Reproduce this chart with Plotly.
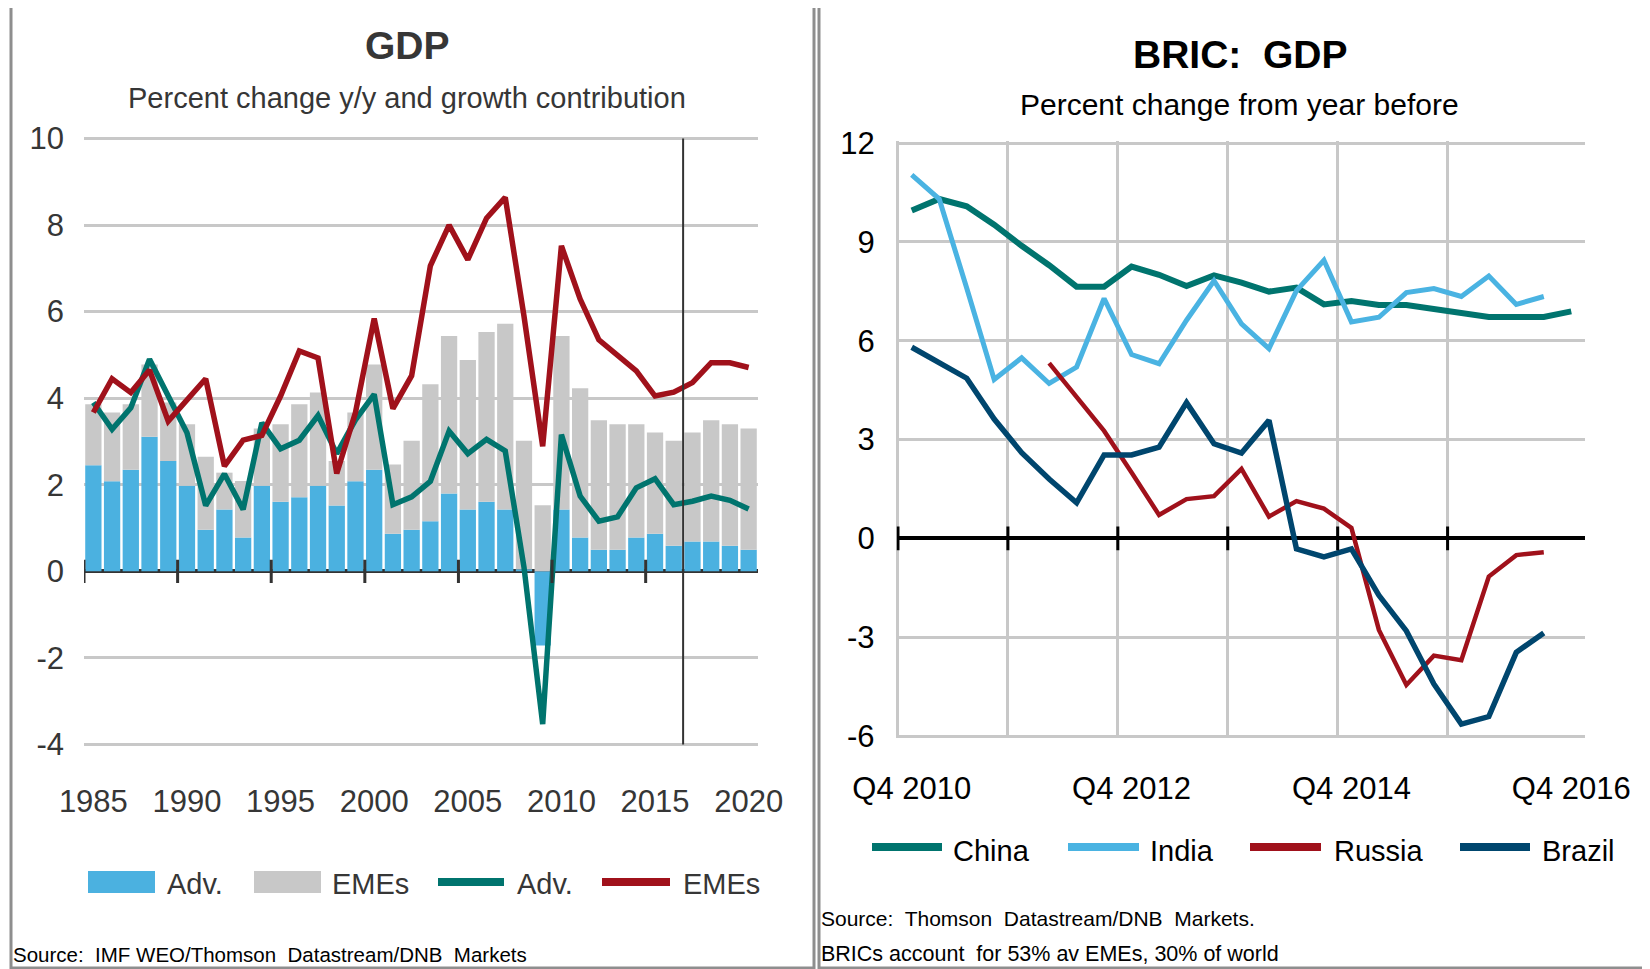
import plotly.graph_objects as go

W, H = 1650, 969
OFF = 8  # page body margin of the browser page (px)

# ---------------- Left chart data (GDP, % y/y and growth contribution) -------------
years = list(range(1985, 2021))
adv_contrib = [2.45, 2.08, 2.35, 3.11, 2.55, 1.98, 0.96, 1.43, 0.78, 1.98,
               1.61, 1.71, 1.98, 1.52, 2.08, 2.35, 0.87, 0.96, 1.16, 1.80,
               1.43, 1.61, 1.43, 0.05, -1.71, 1.43, 0.78, 0.50, 0.50, 0.78,
               0.87, 0.59, 0.69, 0.69, 0.59, 0.50]
eme_contrib = [1.41, 1.59, 1.51, 1.67, 1.35, 1.42, 1.69, 0.85, 1.31, 1.32,
               1.79, 2.15, 2.15, 1.03, 1.59, 2.43, 1.60, 2.06, 3.16, 3.64,
               3.45, 3.92, 4.29, 2.97, 1.53, 4.01, 3.45, 2.99, 2.90, 2.62,
               2.34, 2.43, 2.52, 2.80, 2.81, 2.80]
adv_growth = [3.90, 3.28, 3.78, 4.90, 4.05, 3.20, 1.52, 2.25, 1.43, 3.43,
              2.83, 3.03, 3.60, 2.72, 3.50, 4.09, 1.54, 1.72, 2.08, 3.24,
              2.72, 3.05, 2.78, 0.10, -3.53, 3.16, 1.74, 1.16, 1.26, 1.93,
              2.14, 1.54, 1.62, 1.74, 1.64, 1.44]
eme_growth = [3.67, 4.45, 4.13, 4.65, 3.47, 3.97, 4.45, 2.43, 3.03, 3.14,
              4.05, 5.09, 4.93, 2.26, 3.67, 5.84, 3.76, 4.52, 7.06, 8.00,
              7.20, 8.16, 8.64, 5.90, 2.89, 7.52, 6.29, 5.35, 4.98, 4.63,
              4.05, 4.14, 4.36, 4.82, 4.82, 4.71]
left_tick_years = [1985, 1990, 1995, 2000, 2005, 2010, 2015, 2020]
left_y_ticks = [-4, -2, 0, 2, 4, 6, 8, 10]
forecast_from = 2017

# ---------------- Right chart data (BRIC GDP, % change from year before) ----------
quarters = ["Q4 2010", "Q1 2011", "Q2 2011", "Q3 2011", "Q4 2011",
            "Q1 2012", "Q2 2012", "Q3 2012", "Q4 2012",
            "Q1 2013", "Q2 2013", "Q3 2013", "Q4 2013",
            "Q1 2014", "Q2 2014", "Q3 2014", "Q4 2014",
            "Q1 2015", "Q2 2015", "Q3 2015", "Q4 2015",
            "Q1 2016", "Q2 2016", "Q3 2016", "Q4 2016"]
china = [9.95, 10.3, 10.08, 9.52, 8.88, 8.29, 7.64, 7.64, 8.25, 8.0, 7.66,
         7.98, 7.76, 7.49, 7.61, 7.1, 7.2, 7.08, 7.08, 6.96, 6.84, 6.72,
         6.72, 6.72, 6.89]
india = [11.03, 10.3, 7.6, 4.82, 5.48, 4.70, 5.2, 7.28, 5.58, 5.3, 6.62,
         7.82, 6.51, 5.76, 7.52, 8.44, 6.57, 6.71, 7.46, 7.58, 7.34, 7.96,
         7.1, 7.34, None]
russia = [None, None, None, None, None, 5.32, 4.28, 3.26, 2.0, 0.71, 1.19,
          1.28, 2.11, 0.66, 1.13, 0.9, 0.32, -2.78, -4.45, -3.56, -3.70,
          -1.16, -0.51, -0.42, None]
brazil = [5.8, 5.34, 4.86, 3.62, 2.6, 1.8, 1.08, 2.53, 2.53, 2.77, 4.12,
          2.87, 2.59, 3.58, -0.32, -0.56, -0.32, -1.73, -2.81, -4.42, -5.64,
          -5.41, -3.46, -2.87, None]
right_tick_labels = ["Q4 2010", "Q4 2012", "Q4 2014", "Q4 2016"]
right_y_ticks = [-6, -3, 0, 3, 6, 9, 12]

# ---------------- Styles ----------------
FONT = "Liberation Sans, Arial, sans-serif"
LTXT = "#363636"
RTXT = "#000000"
BLUE = "#4BB1E0"
GREY = "#C8C8C8"
TEAL = "#00746E"
RED = "#A0111B"
LBLUE = "#4AB3E2"
DBLUE = "#00466E"
GRID = "#C8C8C8"


def px(x):
    return (x - OFF) / W


def py(y):
    return 1 - (y - OFF) / H


q_idx = list(range(len(quarters)))

fig = go.Figure()
fig.add_trace(go.Bar(x=years, y=adv_contrib, marker=dict(color=BLUE, line=dict(width=0)),
                     name="Adv.", xaxis="x", yaxis="y"))
fig.add_trace(go.Bar(x=years, y=eme_contrib, marker=dict(color=GREY, line=dict(width=0)),
                     name="EMEs", xaxis="x", yaxis="y"))
fig.add_trace(go.Scatter(x=years, y=adv_growth, mode="lines", name="Adv.",
                         line=dict(color=TEAL, width=5.5), xaxis="x", yaxis="y"))
fig.add_trace(go.Scatter(x=years, y=eme_growth, mode="lines", name="EMEs",
                         line=dict(color=RED, width=5.5), xaxis="x", yaxis="y"))

fig.add_trace(go.Scatter(x=q_idx, y=china, mode="lines", name="China",
                         line=dict(color=TEAL, width=6), xaxis="x2", yaxis="y2"))
fig.add_trace(go.Scatter(x=q_idx, y=india, mode="lines", name="India",
                         line=dict(color=LBLUE, width=5), xaxis="x2", yaxis="y2"))
fig.add_trace(go.Scatter(x=q_idx, y=russia, mode="lines", name="Russia",
                         line=dict(color=RED, width=4.5), xaxis="x2", yaxis="y2"))
fig.add_trace(go.Scatter(x=q_idx, y=brazil, mode="lines", name="Brazil",
                         line=dict(color=DBLUE, width=5.5), xaxis="x2", yaxis="y2"))

shapes = []
# Panel borders
for x0, x1 in [(11, 814), (819, 1647)]:
    shapes.append(dict(type="rect", xref="paper", yref="paper", x0=px(x0), x1=px(x1),
                       y0=py(968), y1=py(4), line=dict(color="#8E8E8E", width=3)))

# Forecast separator (left chart)
shapes.append(dict(type="line", xref="x", yref="y", x0=forecast_from - 0.5, x1=forecast_from - 0.5,
                   y0=left_y_ticks[0], y1=left_y_ticks[-1], line=dict(color="#333333", width=2)))
# Cross ticks on zero line (left), every 5 years at bar boundaries
for k in range(0, len(years) - 1, 5):
    xv = years[k] - 0.5
    shapes.append(dict(type="line", xref="x", yref="y", x0=xv, x1=xv, y0=-0.27, y1=0.27,
                       line=dict(color="#333333", width=3)))
# Cross ticks on zero line (right), every 4 quarters
for k in range(0, len(quarters) - 1, 4):
    xv = k - 0.5
    shapes.append(dict(type="line", xref="x2", yref="y2", x0=xv, x1=xv, y0=-0.36, y1=0.36,
                       line=dict(color="#000000", width=3)))

annotations = []


def text(x, y, s, size, color, xanchor="center", bold=False):
    annotations.append(dict(xref="paper", yref="paper", x=px(x), y=py(y), text=("<b>%s</b>" % s) if bold else s,
                            showarrow=False, xanchor=xanchor, yanchor="middle",
                            font=dict(family=FONT, size=size, color=color)))


# Titles
text(407, 46, "GDP", 39, LTXT, bold=True)
text(407, 98, "Percent change y/y and growth contribution", 29, LTXT)
text(1240, 55, "BRIC:  GDP", 39, RTXT, bold=True)
text(1239, 105, "Percent change from year before", 30, RTXT)

# Left legend (manual, large swatches)
lleg_y = 882
shapes.append(dict(type="rect", xref="paper", yref="paper", x0=px(88), x1=px(155),
                   y0=py(lleg_y + 11), y1=py(lleg_y - 11), fillcolor=BLUE, line=dict(width=0)))
text(165, lleg_y + 2, "Adv.", 29, LTXT, xanchor="left")
shapes.append(dict(type="rect", xref="paper", yref="paper", x0=px(254), x1=px(321),
                   y0=py(lleg_y + 11), y1=py(lleg_y - 11), fillcolor=GREY, line=dict(width=0)))
text(330, lleg_y + 2, "EMEs", 29, LTXT, xanchor="left")
shapes.append(dict(type="line", xref="paper", yref="paper", x0=px(438), x1=px(504),
                   y0=py(lleg_y), y1=py(lleg_y), line=dict(color=TEAL, width=8)))
text(515, lleg_y + 2, "Adv.", 29, LTXT, xanchor="left")
shapes.append(dict(type="line", xref="paper", yref="paper", x0=px(602), x1=px(670),
                   y0=py(lleg_y), y1=py(lleg_y), line=dict(color=RED, width=8)))
text(681, lleg_y + 2, "EMEs", 29, LTXT, xanchor="left")

# Right legend
rleg_y = 847
for (x0, x1, tx, name, col) in [(872, 942, 951, "China", TEAL), (1068, 1139, 1148, "India", LBLUE),
                                (1250, 1321, 1332, "Russia", RED), (1460, 1530, 1540, "Brazil", DBLUE)]:
    shapes.append(dict(type="line", xref="paper", yref="paper", x0=px(x0), x1=px(x1),
                       y0=py(rleg_y), y1=py(rleg_y), line=dict(color=col, width=8)))
    text(tx, rleg_y + 4, name, 29, RTXT, xanchor="left")

# Sources
text(11, 954, "Source:  IMF WEO/Thomson  Datastream/DNB  Markets", 20.5, RTXT, xanchor="left")
text(819, 918, "Source:  Thomson  Datastream/DNB  Markets.", 21, RTXT, xanchor="left")
text(819, 954, "BRICs account  for 53% av EMEs, 30% of world", 21.5, RTXT, xanchor="left")

tickfont_l = dict(size=31, color=LTXT, family=FONT)
tickfont_r = dict(size=31, color=RTXT, family=FONT)

# tiny range padding so that the edge gridlines are drawn
EPS_L = 0.04
EPS_R = 0.05
l_unit = (744.5 - 138.5) / 14.0
r_unit = (736.0 - 143.0) / 18.0
q_unit = (1585.0 - 898.0) / 25.0

fig.update_layout(
    width=W, height=H,
    margin=dict(l=0, r=0, t=0, b=0, pad=0),
    autosize=False,
    paper_bgcolor="white", plot_bgcolor="white",
    showlegend=False,
    barmode="relative", bargap=0.13,
    font=dict(family=FONT, color=LTXT),
    shapes=shapes, annotations=annotations,
    xaxis=dict(domain=[px(84), px(758)], range=[years[0] - 0.5, years[-1] + 0.5],
               tickmode="array", tickvals=left_tick_years, ticks="", showgrid=False,
               zeroline=False, showline=False, tickfont=tickfont_l,
               ticklabelstandoff=34, anchor="y", automargin=False),
    yaxis=dict(domain=[py(744.5 + EPS_L * l_unit), py(138.5 - EPS_L * l_unit)],
               range=[left_y_ticks[0] - EPS_L, left_y_ticks[-1] + EPS_L],
               tickmode="array", tickvals=left_y_ticks, ticktext=[str(v) for v in left_y_ticks],
               showgrid=True, gridcolor=GRID, gridwidth=3,
               zeroline=True, zerolinecolor="#333333", zerolinewidth=4,
               showline=False, ticks="", tickfont=tickfont_l,
               ticklabelstandoff=19, anchor="x", automargin=False),
    xaxis2=dict(domain=[px(898 - EPS_R * q_unit), px(1585)], range=[-0.5 - EPS_R, len(quarters) - 0.5],
                tickmode="array", tickvals=[quarters.index(t) for t in right_tick_labels],
                ticktext=right_tick_labels, ticks="", showgrid=False,
                minor=dict(tickmode="array", tickvals=[k - 0.5 for k in range(0, len(quarters) - 1, 4)],
                           showgrid=True, gridcolor=GRID, gridwidth=3, ticks=""),
                zeroline=False, showline=False,
                tickfont=tickfont_r, ticklabelstandoff=29, anchor="y2", automargin=False),
    yaxis2=dict(domain=[py(736 + EPS_R * r_unit), py(143 - EPS_R * r_unit)],
                range=[right_y_ticks[0] - EPS_R, right_y_ticks[-1] + EPS_R],
                tickmode="array", tickvals=right_y_ticks, ticktext=[str(v) for v in right_y_ticks],
                showgrid=True, gridcolor=GRID, gridwidth=3,
                zeroline=True, zerolinecolor="#000000", zerolinewidth=3.5,
                showline=False, ticks="", tickfont=tickfont_r,
                ticklabelstandoff=21, anchor="x2", automargin=False),
)

fig.write_html("out.html")
